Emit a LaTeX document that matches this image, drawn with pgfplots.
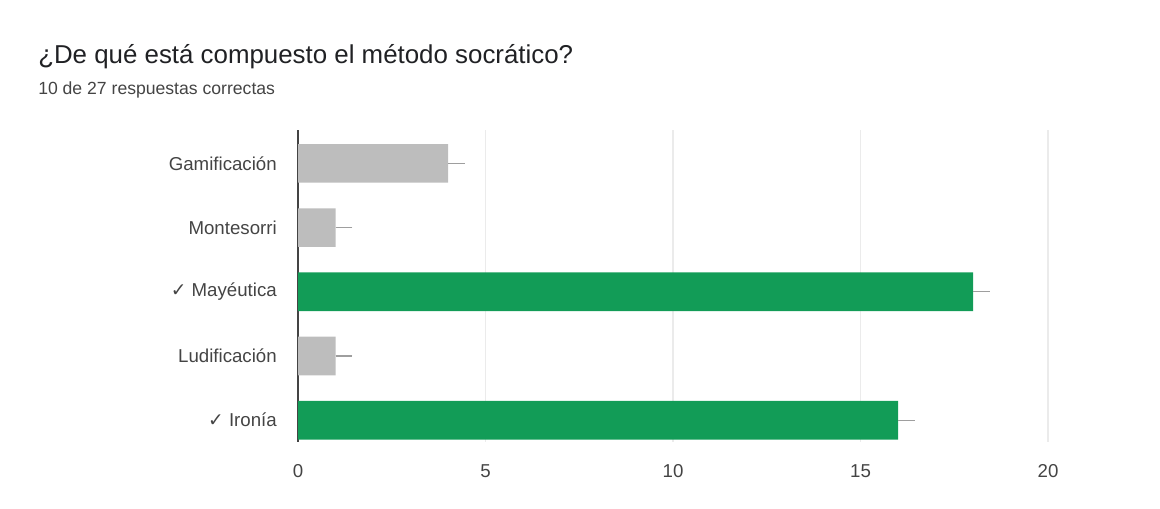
\documentclass[border=0pt]{standalone}
\usepackage{pgfplots}
\pgfplotsset{compat=1.18}
\usepackage{fontspec}
\setmainfont{Liberation Sans}
\newfontfamily\sym{DejaVu Sans}

\definecolor{barGray}{HTML}{BDBDBD}
\definecolor{barGreen}{HTML}{129C57}
\definecolor{txtDark}{HTML}{202124}
\definecolor{txtGray}{HTML}{444444}
\definecolor{gridGray}{HTML}{EBEBEB}
\definecolor{errGray}{HTML}{9E9E9E}

\begin{document}
\begin{tikzpicture}[x=1pt,y=1pt]
\path[use as bounding box] (0,0) rectangle (870,381);

% titulo y subtitulo
\node[anchor=base west, inner sep=0pt, text=txtDark, font=\fontsize{19.4}{22}\selectfont] at (28.5,333) {¿De qué está compuesto el método socrático?};
\node[anchor=base west, inner sep=0pt, text=txtGray, font=\fontsize{13.2}{15}\selectfont] at (28.5,310) {10 de 27 respuestas correctas};

\begin{axis}[
    at={(223.5pt,49.5pt)}, anchor=south west,
    scale only axis,
    width=562.5pt, height=234pt,
    xbar, bar width=29pt, bar shift=0pt,
    xmin=0, xmax=20,
    ymin=-0.52, ymax=4.34,
    y dir=reverse,
    xtick={0,5,10,15,20},
    ytick={0,1,2,3,4},
    yticklabels={Gamificación, Montesorri, {{\sym ✓} Mayéutica}, Ludificación, {{\sym ✓} Ironía}},
    axis line style={draw=none},
    major tick length=0pt,
    xmajorgrids, grid style={gridGray, line width=0.8pt},
    extra x ticks={0}, extra x tick labels={},
    extra x tick style={grid style={txtGray, line width=1.3pt}},
    /pgf/number format/assume math mode=true,
    tick label style={font=\fontsize{14}{16}\selectfont, text=txtGray, inner sep=0pt},
    yticklabel style={anchor=east, xshift=-15.75pt},
    xticklabel style={anchor=north, yshift=-17pt},
    clip=false,
]
% respuestas incorrectas
\addplot[fill=barGray, draw=none,
    error bars/.cd, x dir=plus, x explicit, error mark=none,
    error bar style={errGray, line width=1pt}]
    coordinates {(4,0) +- (0.45,0) (1,1) +- (0.45,0) (1,3) +- (0.45,0)};
% respuestas correctas
\addplot[fill=barGreen, draw=none,
    error bars/.cd, x dir=plus, x explicit, error mark=none,
    error bar style={errGray, line width=1pt}]
    coordinates {(18,2) +- (0.45,0) (16,4) +- (0.45,0)};
\end{axis}
\end{tikzpicture}
\end{document}
